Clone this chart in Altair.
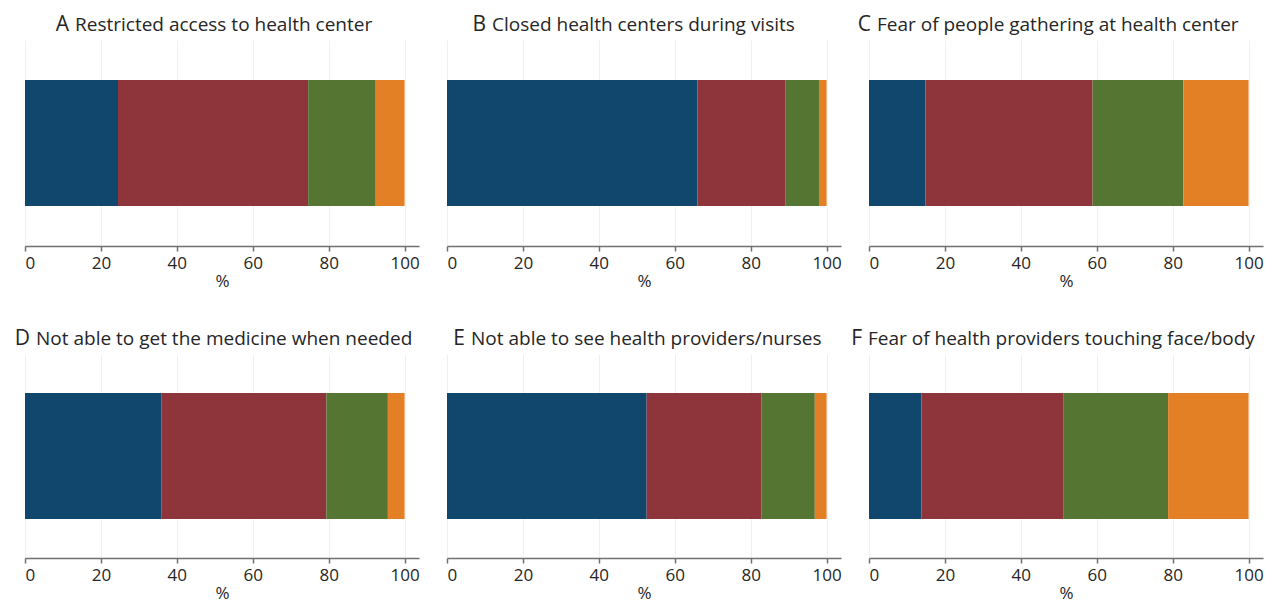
import altair as alt
import pandas as pd

panels = ["A", "B", "C", "D", "E", "F"]
letters = ["A", "B", "C", "D", "E", "F"]
titles = [
    "Restricted access to health center",
    "Closed health centers during visits",
    "Fear of people gathering at health center",
    "Not able to get the medicine when needed",
    "Not able to see health providers/nurses",
    "Fear of health providers touching face/body",
]
levels = ["Level 1", "Level 2", "Level 3", "Level 4"]
colors = ["#12476D", "#8E353C", "#557532", "#E38025"]

vals_A = [24.5, 50.1, 17.8, 7.6]
vals_B = [66.0, 23.1, 8.9, 2.0]
vals_C = [14.9, 44.0, 23.9, 17.2]
vals_D = [36.0, 43.4, 16.2, 4.4]
vals_E = [52.6, 30.2, 14.1, 3.1]
vals_F = [13.8, 37.5, 27.5, 21.2]
all_vals = [vals_A, vals_B, vals_C, vals_D, vals_E, vals_F]
tick_values = [0, 20, 40, 60, 80, 100]

# where each title's text starts, relative to the panel's left edge (layout only)
title_x = [50, 45, 8, 11, 24, -1]

rows = []
for p, vals in zip(panels, all_vals):
    for i, (lv, v) in enumerate(zip(levels, vals)):
        rows.append({"panel": p, "level": lv, "idx": i, "value": v, "bar": "x"})
df = pd.DataFrame(rows)

FONT = "Open Sans"
TXT = "#262626"
W = 394


def panel(k, h):
    p = panels[k]
    sub = df[df.panel == p]
    bars = (
        alt.Chart(sub)
        .mark_bar(size=126)
        .encode(
            x=alt.X(
                "value:Q",
                stack="zero",
                scale=alt.Scale(domain=[0, 103.8], nice=False, zero=True),
                axis=alt.Axis(values=tick_values, title="%", grid=True),
            ),
            y=alt.Y("bar:N", axis=None, scale=alt.Scale(paddingInner=0, paddingOuter=0)),
            color=alt.Color("level:N", scale=alt.Scale(domain=levels, range=colors), legend=None),
            order=alt.Order("idx:Q"),
        )
    )
    tx = title_x[k]
    letter = (
        alt.Chart(pd.DataFrame({"t": [letters[k]]}))
        .mark_text(font=FONT, fontSize=21, color=TXT, align="right", baseline="alphabetic")
        .encode(text="t:N", x=alt.value(tx - 6), y=alt.value(-9))
    )
    rest = (
        alt.Chart(pd.DataFrame({"t": [titles[k]]}))
        .mark_text(font=FONT, fontSize=19, color=TXT, align="left", baseline="alphabetic")
        .encode(text="t:N", x=alt.value(tx), y=alt.value(-9))
    )
    return alt.layer(bars, letter, rest).properties(width=W, height=h)


charts = [panel(k, 206 if k < 3 else 204) for k in range(6)]

chart = (
    alt.concat(*charts, columns=3, spacing={"row": 108, "column": 28}, bounds="flush")
    .configure_view(stroke=None)
    .configure_axis(
        labelFont=FONT,
        labelFontSize=17,
        labelColor=TXT,
        titleFont=FONT,
        titleFontSize=17,
        titleFontWeight="normal",
        titleColor=TXT,
        titlePadding=2,
        labelPadding=4,
        domainColor="#707070",
        domainWidth=1.5,
        tickColor="#707070",
        tickWidth=1.5,
        tickSize=5,
        gridColor="#EAF2F3",
        gridWidth=1,
    )
    .properties(padding={"left": 6, "top": 6, "right": 0, "bottom": 5})
)

chart.save("out.html", embed_options={"renderer": "svg", "actions": False})
